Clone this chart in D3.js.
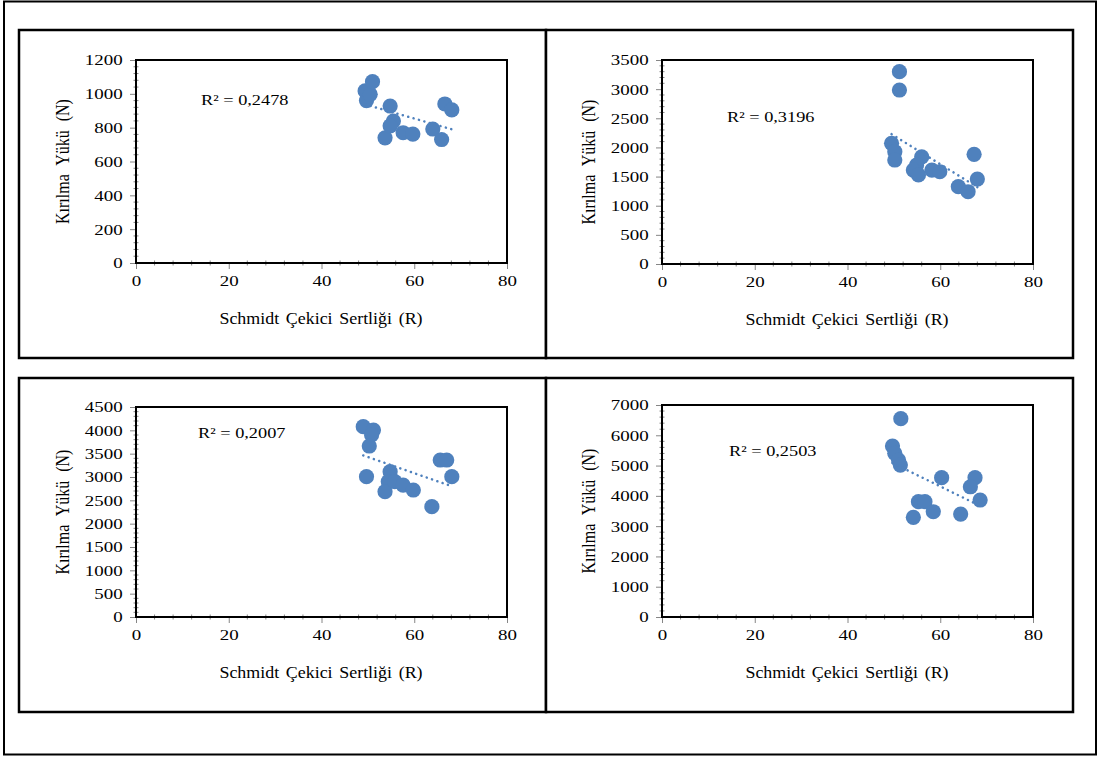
<!DOCTYPE html>
<html>
<head>
<meta charset="utf-8">
<script src="https://cdn.jsdelivr.net/npm/d3@7"></script>
<style>
  html, body { margin: 0; padding: 0; background: #fff; }
  svg { display: block; }
  text { font-family: "Liberation Serif", "Times New Roman", serif; fill: #000; }
</style>
</head>
<body>
<svg id="chart" width="1098" height="758"></svg>
<script>
// Schmidt hammer hardness (R) and breaking load (N) for four sample groups
const hardnessA = [49.4, 49.7, 50.5, 51.0, 53.7, 54.8, 55.5, 54.8, 57.6, 59.7, 64.0, 65.9, 66.6, 68.1];
const loadA     = [1017, 960, 997, 1072, 740, 928, 839, 810, 770, 762, 792, 730, 940, 905];

const hardnessB = [51.2, 51.2, 49.5, 50.2, 50.2, 56.0, 54.9, 54.2, 55.3, 58.2, 59.9, 63.9, 66.0, 67.3, 68.0];
const loadB     = [3300, 2985, 2070, 1926, 1784, 1840, 1698, 1612, 1527, 1612, 1583, 1326, 1240, 1881, 1458];

const hardnessC = [49.0, 51.2, 50.8, 50.3, 49.7, 54.8, 54.4, 53.7, 55.8, 57.6, 59.8, 63.8, 65.6, 67.0, 68.1];
const loadC     = [4078, 4007, 3900, 3664, 3006, 3114, 2900, 2685, 2900, 2828, 2721, 2364, 3364, 3364, 3006];

const hardnessD = [51.5, 49.7, 50.2, 51.0, 51.4, 60.3, 67.5, 66.5, 68.6, 55.3, 56.7, 58.5, 54.2, 64.4];
const loadD     = [6550, 5646, 5403, 5183, 5018, 4600, 4600, 4300, 3863, 3808, 3808, 3476, 3290, 3400];

const rSquaredLabels = ["R² = 0,2478", "R² = 0,3196", "R² = 0,2007", "R² = 0,2503"];
const yMaxima = [1200, 3500, 4500, 7000];
const yMajorSteps = [200, 500, 500, 1000];
const xTicks = [0, 20, 40, 60, 80];

const xTitle = "Schmidt Çekici Sertliği (R)";
const yTitle = "Kırılma Yükü (N)";

const series = [
  { x: hardnessA, y: loadA },
  { x: hardnessB, y: loadB },
  { x: hardnessC, y: loadC },
  { x: hardnessD, y: loadD }
];

// Panel frames and plot areas (page layout)
const layout = [
  { frame: [19, 30, 527, 328],  plot: [136, 60, 371, 203], r2: [201, 105] },
  { frame: [546, 30, 527, 328], plot: [662, 60, 371, 204], r2: [727, 122] },
  { frame: [19, 378, 527, 334], plot: [136, 407, 371, 210], r2: [198, 438] },
  { frame: [546, 378, 527, 334], plot: [662, 405, 371, 212], r2: [729, 456] }
];

const color = "#4F81BD";
const stretch = 1.22; // horizontally widened lettering
const svg = d3.select("#chart");

// outer border
svg.append("rect").attr("x", 4).attr("y", 1.5).attr("width", 1092).attr("height", 753)
  .attr("fill", "none").attr("stroke", "#000").attr("stroke-width", 2);

function linearFit(xs, ys) {
  const n = xs.length;
  const mx = d3.mean(xs), my = d3.mean(ys);
  let sxy = 0, sxx = 0;
  for (let i = 0; i < n; i++) { sxy += (xs[i] - mx) * (ys[i] - my); sxx += (xs[i] - mx) ** 2; }
  const b = sxy / sxx;
  return { a: my - b * mx, b };
}

layout.forEach(L => {
  const [fx, fy, fw, fh] = L.frame;
  svg.append("rect").attr("x", fx).attr("y", fy).attr("width", fw).attr("height", fh)
    .attr("fill", "#fff").attr("stroke", "#000").attr("stroke-width", 2.5);
});

layout.forEach((L, i) => {
  const [px, py, pw, ph] = L.plot;
  const s = series[i];
  const g = svg.append("g");

  const x = d3.scaleLinear().domain([0, 80]).range([px, px + pw]);
  const y = d3.scaleLinear().domain([0, yMaxima[i]]).range([py + ph, py]);

  const yMajor = d3.range(0, yMaxima[i] + 1, yMajorSteps[i]);
  const yMinor = d3.range(0, yMaxima[i] + 1, yMajorSteps[i] / 5).filter(v => !yMajor.includes(v));
  const xMinor = d3.range(0, 81, 4).filter(v => !xTicks.includes(v));

  // minor ticks (crossing the axis)
  g.selectAll(".ymin").data(yMinor).join("line")
    .attr("x1", px - 2.5).attr("x2", px + 2.5)
    .attr("y1", d => y(d)).attr("y2", d => y(d))
    .attr("stroke", "#868686").attr("stroke-width", 1);
  g.selectAll(".xmin").data(xMinor).join("line")
    .attr("x1", d => x(d)).attr("x2", d => x(d))
    .attr("y1", py + ph - 2.5).attr("y2", py + ph + 2.5)
    .attr("stroke", "#868686").attr("stroke-width", 1);

  // major axes
  const yAxis = d3.axisLeft(y).tickValues(yMajor).tickSize(6).tickPadding(5).tickFormat(d3.format("d"));
  const xAxis = d3.axisBottom(x).tickValues(xTicks).tickSize(6).tickPadding(6).tickFormat(d3.format("d"));

  const ya = g.append("g").attr("transform", `translate(${px},0)`).call(yAxis);
  const xa = g.append("g").attr("transform", `translate(0,${py + ph})`).call(xAxis);
  [ya, xa].forEach(a => {
    a.select(".domain").attr("stroke", "#868686");
    a.selectAll(".tick line").attr("stroke", "#868686");
    a.selectAll("text")
      .style("font-family", "'Liberation Serif', serif").style("font-size", "15.5px")
      .attr("fill", "#000").attr("transform", `scale(${stretch},1)`);
  });

  // plot-area border
  g.append("rect").attr("x", px).attr("y", py).attr("width", pw).attr("height", ph)
    .attr("fill", "none").attr("stroke", "#000").attr("stroke-width", 2);

  // points
  g.selectAll("circle").data(s.x.map((v, k) => [v, s.y[k]])).join("circle")
    .attr("cx", d => x(d[0])).attr("cy", d => y(d[1])).attr("r", 7.6)
    .attr("fill", color);

  // linear trend line
  const fit = linearFit(s.x, s.y);
  const x0 = d3.min(s.x), x1 = d3.max(s.x);
  g.append("line")
    .attr("x1", x(x0)).attr("y1", y(fit.a + fit.b * x0))
    .attr("x2", x(x1)).attr("y2", y(fit.a + fit.b * x1))
    .attr("stroke", color).attr("stroke-width", 2.5)
    .attr("stroke-dasharray", "0.1 5.5").attr("stroke-linecap", "round");

  // R² label
  g.append("g").attr("transform", `translate(${L.r2[0]},${L.r2[1]}) scale(${stretch},1)`)
    .append("text").style("font-size", "15px").text(rSquaredLabels[i]);

  // axis titles
  g.append("g").attr("transform", `translate(${px + pw / 2 - 0.5},${py + ph + 61}) scale(1.12,1)`)
    .append("text")
    .attr("text-anchor", "middle").style("font-size", "16px").style("word-spacing", "2px")
    .text(xTitle);
  g.append("g").attr("transform", `translate(${px - 67},${py + ph / 2}) rotate(-90) scale(1,1.15)`)
    .append("text")
    .attr("text-anchor", "middle").style("font-size", "16px").style("word-spacing", "5px")
    .text(yTitle);
});
</script>
</body>
</html>
